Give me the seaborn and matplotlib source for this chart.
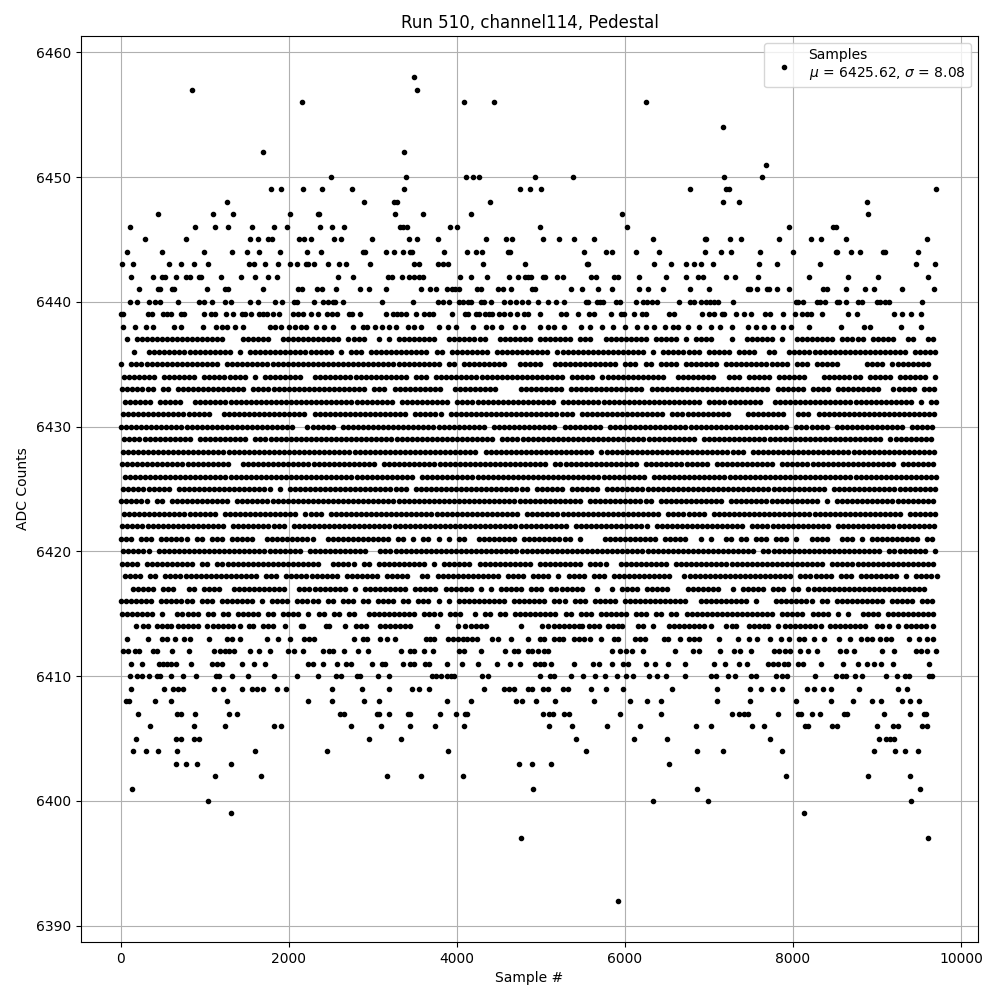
import seaborn as sns
import pandas as pd, numpy as np
import matplotlib
matplotlib.use('Agg')
import matplotlib.pyplot as plt

# sample numbers, one list per ADC level
s6458 = [3484]
s6457 = [841, 3520]
s6456 = [2151, 4079, 4436, 6250]
s6454 = [7167]
s6452 = [1686, 3365]
s6451 = [7678]
s6450 = [2496, 3389, 4103, 4186, 4258, 4929, 5381, 7178, 7630]
s6449 = [1782, 1901, 2163, 2389, 2746, 3365, 4746, 4870, 5000, 6774, 7202, 7238, 9702]
s6448 = [1258, 2889, 3246, 3281, 4389, 7167, 7357, 8881]
s6447 = [436, 1091, 1329, 2008, 2341, 2361, 3258, 3591, 4162, 5964, 8893]
s6446 = [103, 877, 1115, 1270, 1555, 1817, 1972, 2365, 2508, 2651, 3317, 3353, 3401, 3912, 3996,
         4988, 6024, 7952, 8476, 8512]
s6445 = [282, 770, 1532, 1627, 1746, 1794, 2115, 2174, 2258, 2532, 2615, 2984, 3424, 3520, 3770,
         4341, 4579, 4650, 5024, 5214, 5393, 5631, 6333, 6952, 6964, 7250, 7381, 7833, 8214, 8333,
         8631, 9595]
s6444 = [67, 484, 984, 1317, 1496, 1639, 1889, 2210, 2377, 2877, 2901, 3151, 3246, 3353, 3436, 3460,
         3841, 4115, 4222, 4293, 4603, 4627, 5512, 5774, 5845, 6131, 6405, 6952, 7143, 7262, 7607,
         8000, 8512, 8528, 8690, 8798, 9071, 9091, 9488]
s6443 = [8, 139, 567, 710, 865, 1032, 1520, 1579, 1710, 1865, 2008, 2091, 2198, 2222, 2294, 2460,
         2591, 2674, 2960, 3484, 3543, 3770, 3829, 3889, 4305, 4805, 5548, 5560, 6345, 6548, 6726,
         6821, 6905, 7048, 7595, 7810, 8321, 9464, 9690]
s6442 = [115, 377, 484, 520, 659, 770, 817, 925, 948, 1186, 1425, 1591, 1746, 1853, 2579, 2758, 3175,
         3222, 3341, 3424, 3484, 3543, 3591, 4032, 4162, 4353, 4615, 4722, 4805, 4841, 4877, 5024,
         5048, 5190, 5262, 5595, 5655, 5869, 5917, 6167, 6488, 6726, 6869, 6929, 7202, 7309, 7583,
         8190, 8655, 9012, 9607]
s6441 = [210, 436, 460, 603, 627, 1020, 1234, 1270, 1686, 2103, 2151, 2329, 2389, 2555, 2841, 2948,
         3151, 3567, 3675, 3746, 3877, 3936, 3980, 4020, 4234, 4281, 4484, 4543, 4639, 4897, 4925,
         5357, 5488, 5679, 5845, 6167, 6274, 6452, 6774, 7000, 7464, 7488, 7571, 7690, 7714, 7810,
         7952, 8357, 8405, 8631, 8857, 8964, 9298, 9679]
s6440 = [103, 194, 329, 401, 460, 675, 925, 984, 1087, 1234, 1309, 1532, 1627, 1829, 1913, 2055, 2091,
         2294, 2401, 2460, 2520, 2543, 2639, 3103, 3472, 3770, 3829, 3901, 4020, 4067, 4127, 4162,
         4281, 4317, 4401, 4555, 4627, 4698, 4770, 4841, 4964, 5083, 5178, 5274, 5536, 5560, 5667,
         5702, 5738, 5893, 5940, 6131, 6214, 6262, 6321, 6381, 6643, 6774, 6821, 6905, 6964, 7012,
         7060, 7107, 7286, 8036, 8060, 8119, 8286, 8321, 8381, 8524, 8548, 8631, 8774, 8821, 9000,
         9036, 9095, 9143, 9540]
s6439 = [0, 28, 317, 365, 496, 544, 591, 710, 746, 984, 1067, 1115, 1246, 1329, 1436, 1472, 1544, 1639,
         1686, 1734, 1805, 1877, 2043, 2103, 2163, 2258, 2341, 2448, 2508, 2567, 2710, 2746, 2841, 3151,
         3234, 3281, 3329, 3389, 3508, 3603, 3663, 3710, 3936, 4091, 4127, 4222, 4258, 4329, 4377, 4413,
         4496, 4555, 4627, 4710, 4793, 4841, 4988, 5238, 5298, 5436, 5571, 5631, 5833, 5952, 5988, 6107,
         6202, 6250, 6524, 6583, 6917, 7000, 7060, 7155, 7179, 7321, 7417, 7500, 7667, 7726, 7881, 8024,
         8107, 8167, 8214, 8345, 8655, 8762, 9202, 9298, 9405, 9524]
s6438 = [20, 163, 294, 385, 627, 710, 972, 1127, 1198, 1258, 1353, 1448, 1770, 1829, 1901, 1996, 2071,
         2143, 2198, 2317, 2413, 2520, 2758, 2877, 2925, 3020, 3103, 3186, 3270, 3413, 3484, 3567, 3781,
         3889, 3984, 4186, 4341, 4413, 4520, 4686, 4781, 4988, 5083, 5155, 5274, 5476, 5583, 5726, 5857,
         6000, 6143, 6250, 6345, 6476, 6571, 6631, 6750, 6881, 7024, 7131, 7274, 7464, 7560, 7655, 7762,
         7881, 7976, 8190, 8567, 8845, 8917, 9285, 9524]

s6414 = [175, 258, 317, 425, 484, 544, 595, 675, 734, 794, 853, 913, 1020, 1091, 1151, 1210, 1270, 1329,
         1413, 1520, 1567, 1686, 1746, 1805, 1948, 2139, 2171, 2436, 2472, 2663, 2793, 2857, 2917, 3079,
         3139, 3198, 3258, 3317, 3377, 3436, 3758, 4008, 4091, 4167, 4226, 4286, 4345, 4758, 5012, 5083,
         5155, 5214, 5274, 5333, 5393, 5452, 5492, 5571, 5631, 5690, 5798, 5857, 5917, 5964, 6155, 6214,
         6333, 6524, 6583, 6643, 6702, 6762, 6821, 6881, 6940, 7024, 7202, 7274, 7321, 7476, 7536, 7595,
         7655, 7702, 7821, 7905, 7964, 8024, 8083, 8143, 8202, 8262, 8337, 8440, 8500, 8560, 8619, 8679,
         8738, 8798, 8857, 9000, 9059, 9143, 9250, 9345, 9405, 9464, 9524, 9583, 9667]
s6413 = [67, 317, 484, 544, 639, 746, 817, 1044, 1258, 1317, 1413, 1734, 1865, 2008, 2174, 2234, 2294,
         2770, 2877, 2925, 3079, 3163, 3258, 3627, 3675, 3722, 3889, 3948, 4008, 4067, 4119, 4174, 4234,
         4413, 4484, 4639, 4841, 4988, 5036, 5155, 5214, 5262, 5393, 5452, 5512, 5583, 5714, 5869, 5917,
         6119, 6179, 6238, 6464, 6512, 6655, 6762, 6821, 6881, 7119, 7345, 7476, 7571, 7726, 7857, 7952,
         8071, 8131, 8250, 8369, 8548, 8679, 8810, 8881, 8940, 9036, 9107, 9167, 9381, 9500, 9599, 9671]
s6412 = [20, 79, 163, 210, 377, 425, 611, 805, 1103, 1175, 1234, 1282, 1341, 1532, 1639, 1770, 1984, 2055,
         2163, 2401, 2472, 2520, 2651, 2817, 2936, 3329, 3436, 3484, 3603, 3710, 4020, 4079, 4281, 4567,
         4674, 4722, 4841, 4897, 4964, 5036, 5083, 5845, 5940, 6012, 6083, 6214, 6595, 6810, 6881, 7131,
         7298, 7369, 7504, 7774, 7833, 7905, 7964, 8083, 8179, 8290, 8560, 8631, 8726, 9059, 9202, 9464,
         9528, 9595, 9702]
s6411 = [119, 246, 448, 496, 544, 591, 651, 829, 1079, 1139, 1198, 1436, 1579, 1710, 2222, 2282, 2401,
         2567, 2674, 2734, 2984, 3103, 3139, 3353, 3436, 3484, 3615, 3663, 3877, 4055, 4246, 4472, 4627,
         4746, 4929, 4988, 5036, 5119, 5393, 5619, 5690, 5845, 5976, 6036, 6250, 6357, 6512, 6714, 7060,
         7190, 7357, 7452, 7702, 7762, 7821, 7893, 7940, 8060, 8119, 8333, 8595, 8774, 8881, 8964, 9048,
         9190, 9619]
s6410 = [103, 186, 246, 329, 425, 460, 591, 734, 889, 1127, 1170, 1325, 1508, 1817, 2091, 2341, 2555, 2615,
         2805, 2841, 3056, 3186, 3698, 3746, 3805, 3877, 3924, 3960, 4293, 4365, 4988, 5107, 5155, 5357,
         5500, 5643, 5762, 5905, 6012, 6095, 6286, 6381, 6488, 6714, 7024, 7083, 7226, 7309, 7500, 7560,
         7798, 7869, 7929, 8262, 8512, 8583, 8631, 8738, 8821, 9107, 9238, 9333, 9381, 9619, 9655]
s6409 = [115, 508, 615, 675, 734, 1103, 1210, 1436, 1555, 1615, 1686, 1853, 1960, 2508, 2865, 3186, 3460,
         3543, 3663, 4317, 4555, 4615, 4674, 4841, 4897, 5024, 5083, 5262, 5321, 5595, 5774, 5976, 6560,
         7095, 7488, 7619, 7762, 7869, 8167, 8250, 8357, 8452, 8786, 9250, 9357]
s6408 = [56, 91, 401, 591, 1258, 2222, 2508, 2889, 3067, 3877, 4162, 4698, 4770, 4940, 5167, 5631, 6060,
         6262, 6429, 7095, 7488, 8036, 8452, 8714, 8940, 9052, 9298, 9393, 9500]
s6407 = [198, 663, 710, 877, 1282, 1377, 2603, 2651, 3044, 3067, 3186, 3413, 3436, 3793, 3984, 4091, 4115,
         5020, 5095, 5139, 5274, 5333, 5940, 6429, 7274, 7357, 7417, 7464, 7821, 8060, 8095, 8226, 8321,
         8607, 8643, 9083, 9393, 9560, 9587]
s6406 = [341, 865, 1234, 1817, 1901, 2734, 3091, 3436, 3734, 4079, 5095, 5369, 5786, 6179, 6845, 7024, 7512,
         7655, 8139, 8179, 8464, 8520, 9000, 9190, 9250, 9536, 9595]
s6405 = [175, 651, 710, 865, 925, 2948, 3329, 5417, 6107, 6500, 7726, 9024, 9107, 9155, 9202]
s6404 = [139, 294, 436, 663, 1591, 2448, 3889, 5536, 6857, 7167, 7869, 8964, 9214, 9333, 9488]
s6403 = [651, 770, 901, 1305, 4734, 4897, 5119, 6524]
s6402 = [1115, 1663, 3163, 3567, 4067, 7917, 8893, 9393]
s6401 = [127, 4905, 6857, 9512]
s6400 = [1032, 6333, 6988, 9405]
s6399 = [1305, 8131]
s6397 = [4758, 9607]
s6392 = [5917]

sparse_rows = [
    (6458, s6458), (6457, s6457), (6456, s6456), (6454, s6454), (6452, s6452), (6451, s6451),
    (6450, s6450), (6449, s6449), (6448, s6448), (6447, s6447), (6446, s6446), (6445, s6445),
    (6444, s6444), (6443, s6443), (6442, s6442), (6441, s6441), (6440, s6440), (6439, s6439),
    (6438, s6438), (6414, s6414), (6413, s6413), (6412, s6412), (6411, s6411), (6410, s6410),
    (6409, s6409), (6408, s6408), (6407, s6407), (6406, s6406), (6405, s6405), (6404, s6404),
    (6403, s6403), (6402, s6402), (6401, s6401), (6400, s6400), (6399, s6399), (6397, s6397),
    (6392, s6392),
]

# the crowded levels, read as occupancy per 60 samples (blocks of ten)
m6437 = (".#.####### ########## #...###### ..######## ####.####. .#.#.##### ###..##### ###..##### "
         "##.####### .###..#### #####.#### #.#.####.. .#..###### .#..###### ##.#####.# ####..##.. ##")
m6436 = ("..#..##### ########## ##.#.##### ########## ##.#.###.# ########## #.##.##### ###.###### "
         "#####.#### ########## ####.#.### #####.#### #.####..## ..######## ########## ######.### ##")
m6435 = ("#.######## ########## .######### ########## ########## ########## ####.##.## #######..# "
         "####..#### #########. ###.##.### #.#######. ########## ###.###.## ###.....## ##.####### #.")
m6434 = ("#######.## #####.#### #####.#.## ######..## ########## #######.## #.######## ########## "
         "########.# ####.##### ########.. ########.. ###.#####. ######...# #######.## ###.###### .#")
m6433 = ("#######.## .######### #####.#### ########## #########. ###.###### ####..#### #####....# "
         "########.# ########## ####.##### ########## #########. ######.### #.######## #..#####.# ##")
m6432 = ("######.### ##..###### ########## ########## ########## ####.##### #####.#### ########## "
         "######.### ########## ########## #####.#### #######..# ########## ########## #######.#. ##")
m6431 = ("########## ########.. ########## #######.## ########## #######.## ####.##### ########## "
         "########## .######### ########.# ########## #...###### ##..###.## ########## ########## ##")
m6430 = ("########## ########## ########## #####..### ###.###### ########## ########## ###.###### "
         "#######.## ######.### ########## ########## ########## ###.###### #.######## ######.### ##")
m6429 = ("########## ####.##### #####.#### ########## ########## ########## ########## ####.##### "
         "########## ########## ########## ####.##### ########## ########## ########## #.######## #.")
m6428 = ("########## ########## ########## ########## ########## ########## ########## #.######## "
         "########## ####.##### ########## ########## ####.##### ########## ########## ########## ##")
m6427 = ("########## ########## ##..###### ########## ########## #.######## ########## ########## "
         "#####.#### ########## ###.###### #######.## ########## .######### ########## ####.##### ##")
m6426 = ("########## ########## ########## ########## ########## ########.# ########## ########## "
         "########## ########## ####.##### ########## ########## ########## ########## ########## ##")
m6425 = ("########## .######### ########## .#.####### ########## #######.## ########## ########## "
         "#.######.# #####.#### ########## ########## ########## ########## .######### ########## ##")
m6424 = ("######.##. ########## ##.####### ########## ########## ########## ########## ########## "
         "########## ##.####### ######.### ########## .######### #########. #.######## ########## ##")
m6423 = ("########## #########. ########## #####.#### .######### ########## ########## #########. "
         "########## ########## #######.## ######.### ########## ########## ########## #####.#### ##")
m6422 = ("########## ########## #.######## ###.###### ########## ########## ########## ########## "
         "#########. ########## #####.#### ########## ####.##### ########## #.######## ########## ##")
m6421 = ("###.###.## ####.##.## #.#####..# #########. .######### ####.##.#. ##.#.#.##. .########. "
         "########## .#....#### #######.## ###..#.#.. ##.##.###. ###.#..### #..###.#.# #########. ##")
m6420 = ("######.### ########## ########## ######.### #########. .######### ########## ########## "
         "########## ########## ########## ########## ######.### ########## ########## #.######## .#")
m6419 = ("####.##### #####.##.# ########## ########## ..#####.## .######### #.#.###### .######### "
         "##.####### ##.####..# #########. ########## ########## ########## .######### ########## ##")
m6418 = ("####.##.## ########## #######.## #.######## ###.###### #.#####..# #.######## #####.#### "
         ".####.#.## ##.###.### #########. .######### ########## ###.###### #.###.#### ####.#.### ##")
m6417 = ("..#####.## #..##.#### ..######## ###..##### #####.#.## #######.## ###.###### .#.#.##### "
         ".###.##### ##..#..#.# ###.#####. ..#######. .#.#####.# ##.##.#### ########## ########## ..")
m6416 = ("#######.## #####.###. #######.#. ####.##### .##.###.## .####.##.# ##.#.#.### #######.## "
         "#####.###. ###.#####. ########## ###..##### #####.#... ########.# #.######## ##.#####.# ##")
m6415 = ("#######.#. .#####.##. ##.#####.# #.####.#.# #.##.##..# #########. ####.###.. #.##.##.## "
         "#######.## .###.##### #.###.##.# #.######## ########## .#####.### #.#.#..### #.######## ##")

dense_rows = [
    (6437, m6437, 8), (6436, m6436, 36), (6435, m6435, 4), (6434, m6434, 32), (6433, m6433, 16),
    (6432, m6432, 44), (6431, m6431, 24), (6430, m6430, 0), (6429, m6429, 40), (6428, m6428, 20),
    (6427, m6427, 12), (6426, m6426, 44), (6425, m6425, 28), (6424, m6424, 4), (6423, m6423, 36),
    (6422, m6422, 16), (6421, m6421, 0), (6420, m6420, 28), (6419, m6419, 8), (6418, m6418, 48),
    (6417, m6417, 24), (6416, m6416, 0), (6415, m6415, 12),
]

samples = []
counts = []
for level, row in sparse_rows:
    for s in row:
        samples.append(s)
        counts.append(level)
for level, row, first in dense_rows:
    cols = row.replace(' ', '')
    for i, c in enumerate(cols):
        if c == '#':
            samples.append(first + i * 60)
            counts.append(level)

df = pd.DataFrame({'sample': samples, 'adc': counts})

fig, ax = plt.subplots(figsize=(10, 10))

sns.scatterplot(data=df, x='sample', y='adc', color='k', marker='.', s=36,
                edgecolor='k', linewidth=1.0, zorder=2,
                label='Samples\n$\\mu$ = 6425.62, $\\sigma$ = 8.08', ax=ax)

ax.set_xlabel('Sample #')
ax.set_ylabel('ADC Counts')
ax.set_title('Run 510, channel114, Pedestal')
ax.grid(True)
ax.ticklabel_format(useOffset=False, axis='y')
ax.set_xlim(-476, 10202)
ax.legend(loc='upper right')

fig.subplots_adjust(left=0.081, right=0.978, top=0.964, bottom=0.058)
fig.savefig('out.png', dpi=100)
